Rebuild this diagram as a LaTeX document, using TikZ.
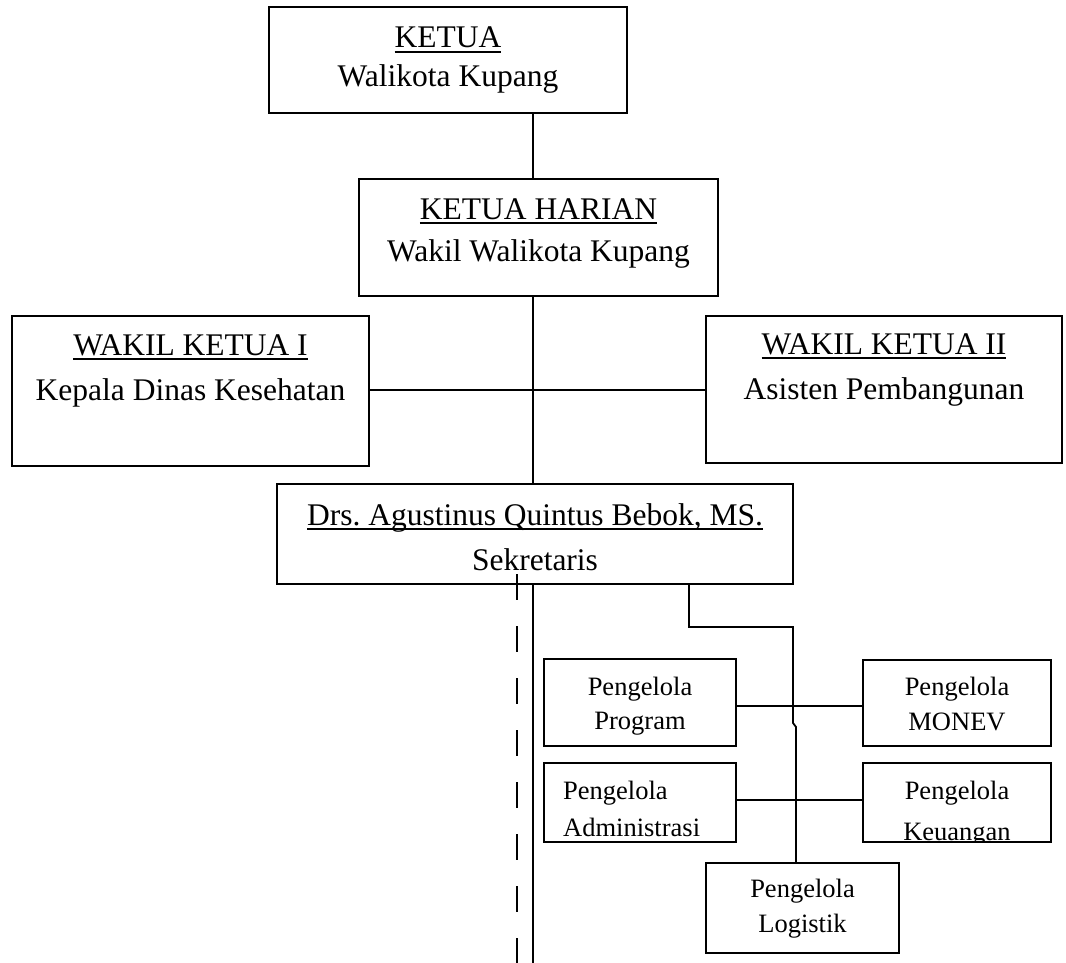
\documentclass[tikz,border=0pt]{standalone}
\usepackage{fontspec}
\setmainfont{Liberation Serif}
\frenchspacing
\newcommand\ulx[1]{\setbox0\hbox{#1}\rlap{\rule[-5pt]{\wd0}{1.8pt}}\box0}
\begin{document}
\begin{tikzpicture}[x=1pt,y=-1pt,
  box/.style={draw, line width=1.8pt, rectangle, inner sep=0pt},
  conn/.style={line width=1.8pt},
  big/.style={font=\fontsize{31.5}{38}\selectfont\frenchspacing, inner sep=0pt, anchor=base},
  small/.style={font=\fontsize{26.5}{32}\selectfont, inner sep=0pt, anchor=base}]
\useasboundingbox[fill=white] (0,0) rectangle (1066,963);

% boxes
\node[box, minimum width=358pt, minimum height=106pt] (ketua) at (448,60) {};
\node[box, minimum width=359pt, minimum height=117pt] (kh) at (538.5,237.5) {};
\node[box, minimum width=357pt, minimum height=150pt] (w1) at (190.5,391) {};
\node[box, minimum width=356pt, minimum height=147pt] (w2) at (884,389.5) {};
\node[box, minimum width=516pt, minimum height=100pt] (sek) at (535,534) {};
\node[box, minimum width=192pt, minimum height=87pt] (prog) at (640,702.5) {};
\node[box, minimum width=188pt, minimum height=86pt] (monev) at (957,703) {};
\node[box, minimum width=192pt, minimum height=79pt] (adm) at (640,802.5) {};
\node[box, minimum width=188pt, minimum height=79pt] (keu) at (957,802.5) {};
\node[box, minimum width=193pt, minimum height=90pt] (log) at (802.5,908) {};

% texts
\node[big] (ketua-a) at (448,48) {\ulx{KETUA}};
\node[big] (ketua-b) at (448,87) {Walikota Kupang};
\node[big] (kh-a) at (538.5,219) {\ulx{KETUA HARIAN}};
\node[big] (kh-b) at (538.5,261) {Wakil Walikota Kupang};
\node[big] (w1-a) at (190.5,355) {\ulx{WAKIL KETUA I}};
\node[big] (w1-b) at (190.5,400) {Kepala Dinas Kesehatan};
\node[big] (w2-a) at (884,354) {\ulx{WAKIL KETUA II}};
\node[big] (w2-b) at (884,399) {Asisten Pembangunan};
\node[big] (sek-a) at (535,525) {\ulx{Drs. Agustinus Quintus Bebok, MS.}};
\node[big] (sek-b) at (535,570) {Sekretaris};
\node[small] (prog-a) at (640,695) {Pengelola};
\node[small] (prog-b) at (640,729) {Program};
\node[small] (monev-a) at (957,695) {Pengelola};
\node[small] (monev-b) at (957,730) {MONEV};
\node[small, anchor=base west] (adm-a) at (563,799) {Pengelola};
\node[small, anchor=base west] (adm-b) at (563,836) {Administrasi};
\node[small] (keu-a) at (957,799) {Pengelola};
\begin{scope}
\clip (863,763) rectangle (1051,841);
\node[small] (keu-b) at (957,840) {Keuangan};
\end{scope}
\node[small] (log-a) at (802.5,897) {Pengelola};
\node[small] (log-b) at (802.5,932) {Logistik};

% connector coordinates
\coordinate (vx) at (533,0);
\coordinate (hy) at (0,390);
\coordinate (py) at (0,706);
\coordinate (ay) at (0,800);
\coordinate (sbot) at (533,963);
\coordinate (dtop) at (517,574);
\coordinate (dbot) at (517,963);
\coordinate (ex) at (689,627);
\coordinate (ex2) at (793,627);
\coordinate (ej1) at (793,723);
\coordinate (ej2) at (796,727);

% connectors
\draw[conn] (ketua.south -| vx) -- (kh.north -| vx);
\draw[conn] (kh.south -| vx) -- (sek.north -| vx);
\draw[conn] (w1.east |- hy) -- (w2.west |- hy);
\draw[conn] (sek.south -| vx) -- (sbot);
\draw[conn, dash pattern=on 26pt off 26pt] (dtop) -- (dbot);
\draw[conn] (sek.south -| ex) -- (ex) -- (ex2) -- (ej1) -- (ej2) -- (log.north -| ej2);
\draw[conn] (prog.east |- py) -- (monev.west |- py);
\draw[conn] (adm.east |- ay) -- (keu.west |- ay);
\end{tikzpicture}
\end{document}
